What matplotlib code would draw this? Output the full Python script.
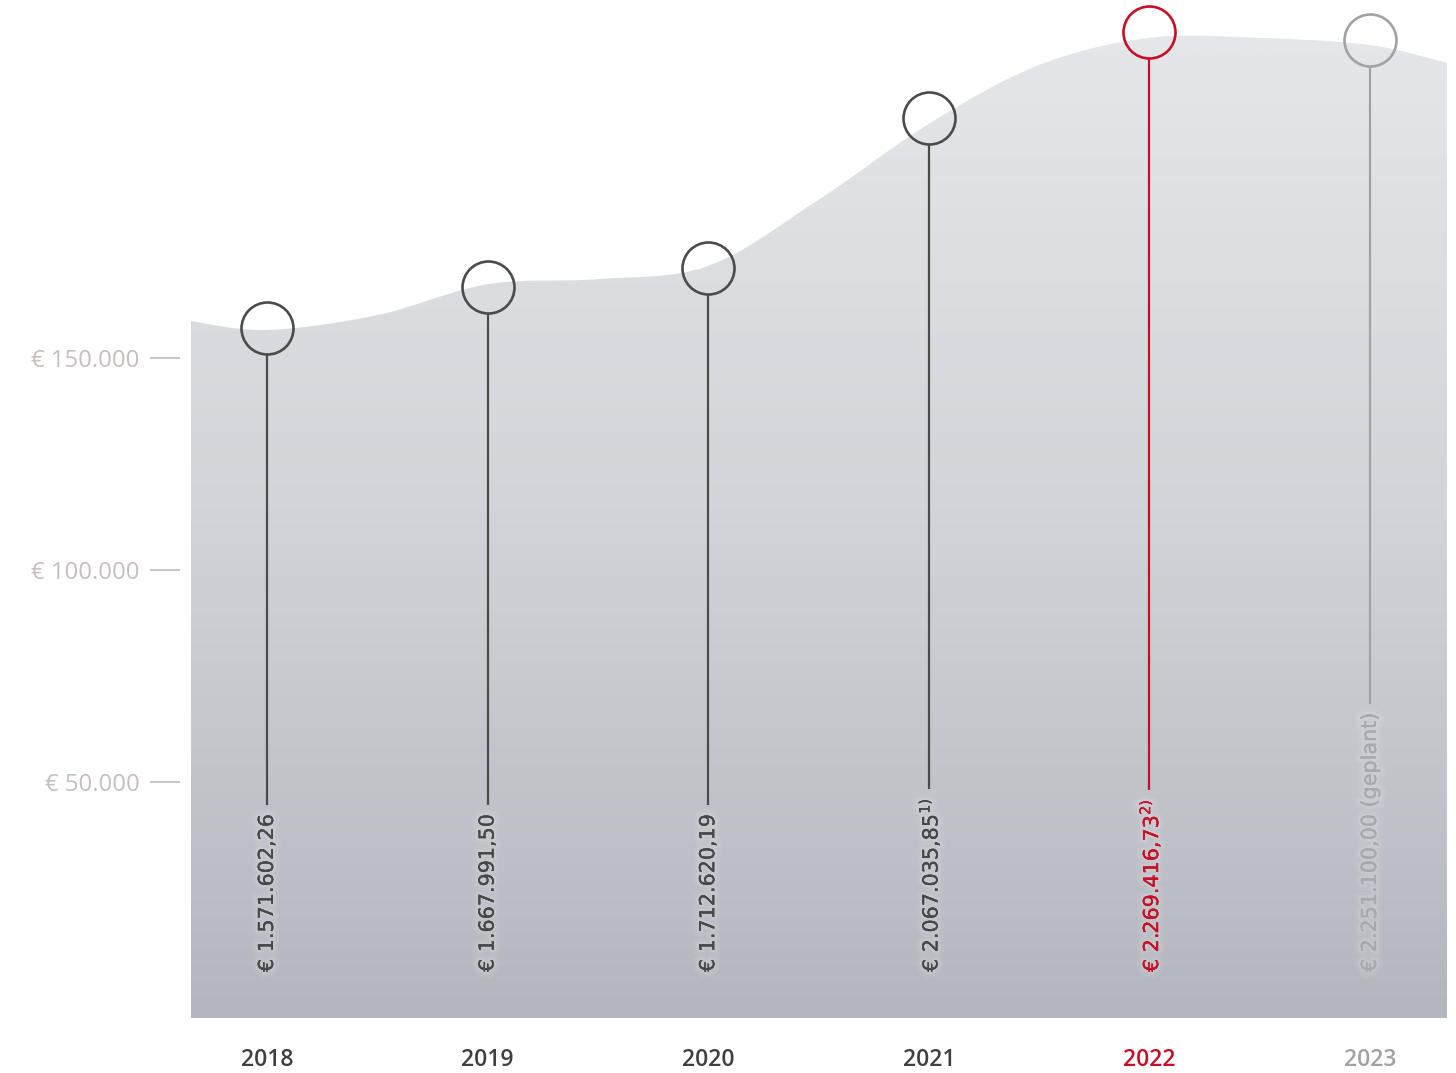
import matplotlib
matplotlib.use("Agg")
import matplotlib.pyplot as plt
import numpy as np
from matplotlib.path import Path
from matplotlib.patches import PathPatch
from matplotlib.colors import LinearSegmentedColormap
import matplotlib.patheffects as pe
import matplotlib.transforms as mtransforms

plt.rcParams['font.family'] = ['Open Sans', 'DejaVu Sans']
plt.rcParams['mathtext.fontset'] = 'custom'
plt.rcParams['mathtext.rm'] = 'DejaVu Sans'

# ---------------- data ----------------
years = ["2018", "2019", "2020", "2021", "2022", "2023"]
values = [1571602.26, 1667991.50, 1712620.19, 2067035.85, 2269416.73, 2251100.00]
value_labels = ["€ 1.571.602,26", "€ 1.667.991,50", "€ 1.712.620,19",
                "€ 2.067.035,85$^{\\mathregular{1)}}$", "€ 2.269.416,73$^{\\mathregular{2)}}$",
                "€ 2.251.100,00 (geplant)"]
# smooth background trend, x in year-index units
trend_x = [-0.345, 0.0, 0.5, 1.0, 1.5, 2.0, 2.5, 3.0, 3.5, 4.0, 4.5, 5.0, 5.349]
trend_y = [1587000, 1566000, 1601000, 1674000, 1686000, 1717000, 1873000,
           2052000, 2191000, 2255000, 2255000, 2238000, 2196000]
ytick_vals = [500000, 1000000, 1500000]
ytick_labels = ["€ 50.000", "€ 100.000", "€ 150.000"]

colors = ["#4b4b4b", "#4b4b4b", "#4b4b4b", "#4b4b4b", "#c50f26", "#a2a2a2"]
text_colors = ["#474747", "#474747", "#474747", "#474747", "#c50f26", "#a6a8ad"]
year_colors = ["#3f3f3f", "#3f3f3f", "#3f3f3f", "#3f3f3f", "#c50f26", "#a2a2a2"]

# ---------------- figure ----------------
W, H = 1456, 1073
fig = plt.figure(figsize=(W / 100, H / 100), dpi=100)
ax = fig.add_axes([191 / W, 55 / H, 1256 / W, 1018 / H])
ymin, ymax = -56600, 2344300
xmin, xmax = -0.3445, 5.349
ax.set_xlim(xmin, xmax)
ax.set_ylim(ymin, ymax)
for s in ax.spines.values():
    s.set_visible(False)

# area path (Catmull-Rom -> cubic Bezier)
px = np.array(trend_x, float)
py = np.array(trend_y, float)
verts = [(px[0], ymin), (px[0], py[0])]
codes = [Path.MOVETO, Path.LINETO]
n = len(px)
for i in range(n - 1):
    p0 = np.array([px[max(i - 1, 0)], py[max(i - 1, 0)]])
    p1 = np.array([px[i], py[i]])
    p2 = np.array([px[i + 1], py[i + 1]])
    p3 = np.array([px[min(i + 2, n - 1)], py[min(i + 2, n - 1)]])
    c1 = p1 + (p2 - p0) / 6.0
    c2 = p2 - (p3 - p1) / 6.0
    verts += [tuple(c1), tuple(c2), tuple(p2)]
    codes += [Path.CURVE4] * 3
verts += [(px[-1], ymin), (px[0], ymin)]
codes += [Path.LINETO, Path.CLOSEPOLY]
path = Path(verts, codes)
patch = PathPatch(path, facecolor='none', edgecolor='none')
ax.add_patch(patch)

cmap = LinearSegmentedColormap.from_list("bg", ["#b4b6be", "#d3d4d9", "#e7e8eb"])
grad = np.linspace(0, 1, 256).reshape(-1, 1)
im = ax.imshow(grad, extent=[xmin, xmax, ymin, ymax], origin='lower',
               aspect='auto', cmap=cmap, interpolation='bicubic', zorder=1)
im.set_clip_path(patch)

# y ticks
ax.set_yticks(ytick_vals)
ax.set_yticklabels(ytick_labels)
ax.tick_params(axis='y', length=0, pad=37, labelsize=17.2, labelcolor='#c6bfbd')
dash_tr = mtransforms.blended_transform_factory(ax.transAxes, ax.transData)
for v in ytick_vals:
    ax.plot([-41 / 1256, -11 / 1256], [v, v], transform=dash_tr, color='#c6bfbd',
            lw=1.3, clip_on=False, solid_capstyle='butt')

# x ticks
xs = np.arange(len(years))
ax.set_xticks(xs)
ax.set_xticklabels(years, fontweight='semibold')
ax.tick_params(axis='x', length=0, pad=21.8, labelsize=16.5)
for lab, c in zip(ax.get_xticklabels(), year_colors):
    lab.set_color(c)

# value labels
label_base = (994 - 972) / 424 * 1e6
halo = [pe.withStroke(linewidth=9, foreground=(1, 1, 1, 0.06)),
        pe.withStroke(linewidth=4, foreground=(1, 1, 1, 0.10))]
texts = []
for i, (lab, c) in enumerate(zip(value_labels, text_colors)):
    t = ax.text(xs[i], label_base, lab, rotation=90, ha='center', va='bottom',
                fontsize=14.9, color=c, zorder=4, path_effects=halo,
                family=['DejaVu Sans'])
    texts.append(t)

fig.canvas.draw()
renderer = fig.canvas.get_renderer()
inv = ax.transData.inverted()
radius_px = 26
for i, (v, c, t) in enumerate(zip(values, colors, texts)):
    bb = t.get_window_extent(renderer)
    cx, cy = ax.transData.transform((xs[i], v))
    _, y_bot = inv.transform((cx, bb.y1 + 10))
    _, y_top = inv.transform((cx, cy - radius_px))
    ax.plot([xs[i], xs[i]], [y_bot, y_top], color=c, lw=1.6, zorder=3,
            solid_capstyle='butt')
    ax.plot([xs[i]], [v], marker='o', ms=2 * radius_px * 0.72, mfc='none',
            mec=c, mew=1.9, zorder=5, clip_on=False)

fig.savefig("out.png", dpi=100, facecolor='white')
